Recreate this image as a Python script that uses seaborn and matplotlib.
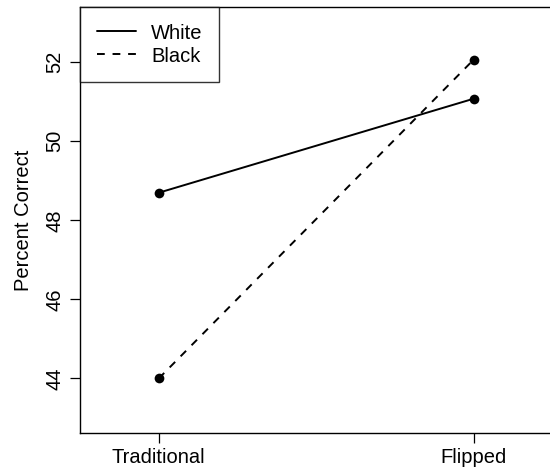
import pandas as pd
import matplotlib
import matplotlib.pyplot as plt
import seaborn as sns

matplotlib.use('Agg')

# ==========================================================
# DATA
# ==========================================================
conditions = ["Traditional", "Flipped"]
races = ["White", "Black"]
white_pct = [48.70, 51.08]
black_pct = [44.00, 52.07]

df = pd.DataFrame({
    "condition": conditions * 2,
    "pos": list(range(len(conditions))) * 2,
    "race": [races[0]] * 2 + [races[1]] * 2,
    "pct": white_pct + black_pct,
})

# ==========================================================
# STYLE
# ==========================================================
sns.set_theme(style="ticks")
plt.rcParams["font.family"] = ["Liberation Sans", "DejaVu Sans"]
plt.rcParams["text.color"] = "black"
plt.rcParams["axes.labelcolor"] = "black"
plt.rcParams["xtick.color"] = "black"
plt.rcParams["ytick.color"] = "black"
FS = 14.5

fig = plt.figure(figsize=(5.5, 4.67), dpi=100)
ax = fig.add_axes([80 / 550, 34 / 467, 472.5 / 550, 426 / 467])

sns.lineplot(
    data=df, x="pos", y="pct", style="race", style_order=races,
    dashes={"White": "", "Black": (4, 4)},
    markers={"White": "o", "Black": "o"},
    color="black", linewidth=1.4, markersize=7, markeredgewidth=0,
    ax=ax,
)

ax.set_xlim(-0.25, 1.25)
ax.set_ylim(42.62, 53.40)
ax.set_xticks(range(len(conditions)))
ax.set_xticklabels(conditions, fontsize=FS)
ax.set_yticks([44, 46, 48, 50, 52])
ax.set_yticklabels(["44", "46", "48", "50", "52"], fontsize=FS,
                   rotation=90, va="center")
ax.set_xlabel("")
ax.set_ylabel("Percent Correct", fontsize=FS, labelpad=9)
ax.tick_params(axis="both", length=7, width=0.9, color="black", pad=4)

for side in ["left", "right", "top", "bottom"]:
    ax.spines[side].set_visible(True)
    ax.spines[side].set_color("black")
    ax.spines[side].set_linewidth(1.0)

leg = ax.legend(loc="upper left", fontsize=FS, frameon=True, fancybox=False,
                borderaxespad=0, handlelength=1.95, handletextpad=0.75,
                borderpad=0.82, labelspacing=0.2, title=None)
leg.get_frame().set_edgecolor("black")
leg.get_frame().set_linewidth(1.0)
for h in leg.legend_handles:
    h.set_marker("")

fig.savefig("out.png", dpi=100)
